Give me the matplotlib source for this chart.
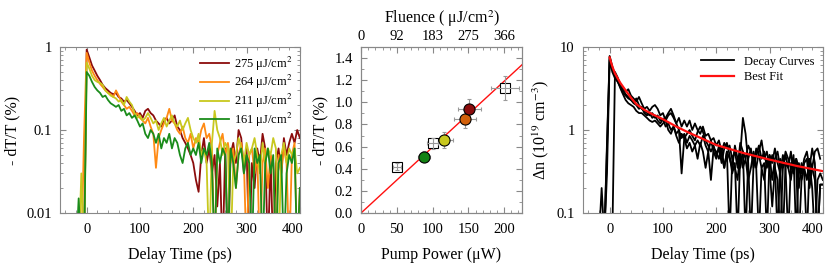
import numpy as np
import matplotlib
matplotlib.use("Agg")
import matplotlib.pyplot as plt
import matplotlib.transforms as mtransforms
from matplotlib.ticker import MultipleLocator, LogLocator, NullFormatter

plt.rcParams['font.family'] = ['Liberation Serif', 'DejaVu Serif']
plt.rcParams['mathtext.fontset'] = 'stix'

# ---- panel 1 : -dT/T decays for four fluences ----
t = np.arange(-20, 401, 5)

fluence_labels = ["275 μJ/cm$^2$", "264 μJ/cm$^2$", "211 μJ/cm$^2$", "161 μJ/cm$^2$"]
fluence_colors = ["#8b0c0c", "#ff8a14", "#c8c81e", "#1a8c1a"]

dt_275 = [0.003, 0.003, 0.003, 0.003, 0.93, 0.75, 0.6, 0.52, 0.45, 0.4, 0.35, 0.32, 0.3, 0.28, 0.27,
          0.28, 0.25, 0.24, 0.22, 0.23, 0.21, 0.19, 0.17, 0.15, 0.16, 0.14, 0.17, 0.18, 0.16, 0.15,
          0.13, 0.12, 0.11, 0.13, 0.14, 0.12, 0.13, 0.15, 0.11, 0.1, 0.08, 0.07, 0.06, 0.05, 0.04,
          0.025, 0.018, 0.05, 0.08, 0.04, 0.06, 0.03, 0.05, 0.012, 0.04, 0.003, 0.06, 0.003, 0.05,
          0.07, 0.04, 0.1, 0.08, 0.03, 0.06, 0.003, 0.04, 0.02, 0.06, 0.04, 0.09, 0.06, 0.003, 0.05,
          0.003, 0.04, 0.06, 0.03, 0.08, 0.05, 0.07, 0.09, 0.07, 0.1, 0.08]
dt_264 = [0.003, 0.003, 0.003, 0.08, 0.85, 0.65, 0.52, 0.45, 0.4, 0.36, 0.33, 0.3, 0.28, 0.27, 0.25,
          0.3, 0.26, 0.22, 0.2, 0.18, 0.19, 0.17, 0.15, 0.16, 0.14, 0.13, 0.12, 0.14, 0.11, 0.09,
          0.035, 0.08, 0.1, 0.12, 0.14, 0.18, 0.13, 0.12, 0.1, 0.09, 0.11, 0.08, 0.07, 0.09, 0.06,
          0.08, 0.07, 0.1, 0.12, 0.08, 0.09, 0.06, 0.003, 0.05, 0.07, 0.09, 0.05, 0.07, 0.04, 0.06,
          0.02, 0.05, 0.07, 0.04, 0.003, 0.05, 0.06, 0.03, 0.05, 0.003, 0.04, 0.06, 0.02, 0.05, 0.04,
          0.003, 0.05, 0.03, 0.06, 0.04, 0.003, 0.05, 0.07, 0.003, 0.02]
dt_211 = [0.003, 0.003, 0.03, 0.003, 0.65, 0.55, 0.45, 0.4, 0.38, 0.37, 0.35, 0.3, 0.28, 0.26, 0.25,
          0.24, 0.22, 0.23, 0.2, 0.25, 0.22, 0.2, 0.16, 0.14, 0.15, 0.13, 0.14, 0.16, 0.14, 0.12,
          0.13, 0.1, 0.12, 0.14, 0.11, 0.13, 0.15, 0.12, 0.11, 0.13, 0.1, 0.12, 0.14, 0.1, 0.08,
          0.07, 0.09, 0.05, 0.06, 0.04, 0.003, 0.07, 0.17, 0.1, 0.08, 0.05, 0.07, 0.06, 0.003, 0.04,
          0.05, 0.08, 0.06, 0.04, 0.07, 0.05, 0.06, 0.08, 0.05, 0.03, 0.07, 0.04, 0.06, 0.05, 0.08,
          0.06, 0.003, 0.05, 0.07, 0.04, 0.06, 0.05, 0.06, 0.03, 0.035]
dt_161 = [0.003, 0.015, 0.003, 0.003, 0.5, 0.45, 0.38, 0.33, 0.3, 0.28, 0.25, 0.26, 0.23, 0.21, 0.2,
          0.19, 0.2, 0.17, 0.18, 0.15, 0.16, 0.14, 0.15, 0.13, 0.11, 0.12, 0.09, 0.08, 0.1, 0.09,
          0.07, 0.09, 0.06, 0.08, 0.07, 0.09, 0.06, 0.08, 0.07, 0.05, 0.04, 0.06, 0.07, 0.05, 0.06,
          0.05, 0.07, 0.04, 0.06, 0.05, 0.07, 0.04, 0.003, 0.06, 0.04, 0.06, 0.05, 0.003, 0.06, 0.04,
          0.02, 0.05, 0.06, 0.03, 0.05, 0.04, 0.003, 0.06, 0.04, 0.05, 0.003, 0.04, 0.06, 0.03, 0.05,
          0.003, 0.04, 0.05, 0.003, 0.03, 0.05, 0.04, 0.06, 0.003, 0.02]

# ---- panel 2 : peak signal vs pump power ----
sq_power = [50, 100, 201]
sq_signal = [0.42, 0.63, 1.13]
sq_xerr = [6, 8, 20]
sq_yerr = [0.03, 0.05, 0.11]

dot_power = [88, 116, 145, 151]
dot_signal = [0.51, 0.66, 0.85, 0.94]
dot_xerr = [8.5, 12, 15, 16]
dot_yerr = [0.05, 0.075, 0.085, 0.09]
dot_colors = ["#148214", "#c8c81e", "#d2600a", "#8b0c0c"]

fit_power = [0, 225]
fit_signal = [0.0, 1.34]

fluence_ticks = [0, 50, 100, 150, 200]
fluence_ticklabels = ["0", "92", "183", "275", "366"]

# ---- panel 3 : carrier density decays and best fit ----
dn_a = [0.05, 0.2, 0.05, 0.6, 7.5, 5.5, 4.5, 4.0, 3.6, 3.2, 2.9, 3.1, 2.6, 2.4, 2.2,
        2.5, 2.1, 1.8, 1.9, 1.7, 1.9, 2.0, 1.8, 1.5, 1.6, 1.3, 1.5, 1.6, 1.4, 1.2,
        1.4, 1.1, 1.3, 1.1,
        1.3, 1.0, 1.2, 1.0, 0.9, 1.1, 0.85, 0.9, 0.75, 0.8,
        0.65, 0.75, 0.55, 0.7, 0.6, 0.65, 0.45, 0.55, 0.35, 0.7,
        0.55, 0.05, 0.45, 0.6, 0.35, 0.5, 0.65, 0.45, 0.55, 0.35,
        0.5, 0.25, 0.45, 0.55, 0.35, 0.05, 0.4, 0.35, 0.55, 0.3,
        0.45, 0.35, 0.25, 0.4, 0.45, 0.2, 0.35, 0.55, 0.6, 0.45, np.nan]
dn_b = [0.05, 0.05, 0.05, 0.3, 7.0, 5.0, 4.2, 3.8, 3.3, 2.8, 2.6, 2.4, 2.3, 2.2, 2.4,
        2.0, 1.8, 1.7, 1.6, 1.5, 1.6, 1.4, 1.5, 1.3, 1.35, 1.4, 1.6, 1.8, 1.5, 1.2,
        1.0, 0.3, 0.8, 0.9,
        1.0, 0.85, 0.75, 0.95, 1.1, 0.95, 0.75, 0.65, 0.55, 0.65,
        0.5, 0.6, 0.4, 0.6, 0.7, 0.5, 0.3, 0.4, 0.05, 0.5,
        1.4, 0.9, 0.4, 0.05, 0.4, 0.6, 0.5, 0.35, 0.4, 0.05,
        0.5, 0.4, 0.6, 0.4, 0.3, 0.5, 0.35, 0.05, 0.4, 0.3,
        0.45, 0.2, 0.4, 0.3, 0.05, 0.4, 0.2, 0.05, 0.25, 0.3, 0.25]
dn_c = [0.05, 0.05, 0.05, 0.7, 7.8, 5.8, 4.6, 3.9, 3.2, 2.7, 2.3, 2.1, 2.0, 1.9, 1.7,
        1.6, 1.6, 1.5, 1.4, 1.3, 1.25, 1.3, 1.2, 1.1, 1.2, 1.3, 1.0, 0.9, 1.1, 0.85,
        0.7, 0.9, 0.8, 0.6,
        0.7, 0.55, 0.65, 0.45, 0.7, 0.55, 0.35, 0.55, 0.25, 0.6,
        0.55, 0.45, 0.6, 0.35, 0.55, 0.05, 0.45, 0.35, 0.25, 0.55,
        0.35, 0.45, 0.25, 0.35, 0.55, 0.35, 0.05, 0.35, 0.25, 0.45,
        0.35, 0.12, 0.35, 0.25, 0.05, 0.35, 0.5, 0.35, 0.25, 0.45,
        0.35, 0.05, 0.25, 0.35, 0.25, 0.45, 0.35, 0.25, 0.05, 0.22, 0.22]
dn_d = [0.05, 0.05, 0.05, 0.05, 0.05, 0.05, 5.0, 4.3, 3.5, 3.0, 2.7, 2.5, 2.3, 2.1, 2.0,
        1.8, 1.9, 1.6, 1.5, 1.6, 1.4, 1.5, 1.3, 1.2, 1.35, 1.1, 1.2, 1.0, 1.1, 0.9,
        1.0, 0.8, 0.9, 0.7,
        0.85, 0.75, 0.65, 0.75, 0.65, 0.85, 0.65, 0.55, 0.75, 0.55,
        0.45, 0.65, 0.5, 0.35, 0.55, 0.45, 0.35, 0.65, 0.45, 0.35,
        0.55, 0.45, 0.65, 0.55, 0.45, 0.35, 0.55, 0.75, 0.45, 0.55,
        0.35, 0.5, 0.4, 0.05, 0.45, 0.35, 0.55, 0.45, 0.35, 0.5,
        0.05, 0.4, 0.3, 0.45, 0.55, 0.35, 0.6, 0.4, 0.05, 0.22, 0.22]

fit_t = [0, 3, 6, 10, 15, 20, 30, 40, 50, 65, 80, 100, 125, 150, 175, 200, 250, 300, 350, 410]
fit_dn = [7.5, 6.4, 5.6, 4.8, 4.2, 3.7, 3.0, 2.45, 2.05, 1.75, 1.55, 1.35, 1.1, 0.92, 0.78,
          0.66, 0.53, 0.44, 0.37, 0.31]


def style_axis(ax):
    for s in ax.spines.values():
        s.set_color("#888888")
    ax.tick_params(which="both", direction="in", top=True, right=True, colors="#888888",
                   labelcolor="black", labelsize=10.5)
    ax.tick_params(which="major", length=4)
    ax.tick_params(which="minor", length=2)
    ax.tick_params(axis="x", which="both", pad=7)
    ax.tick_params(axis="y", which="both", pad=6)


def nudge_last_xlabel(ax, dx_px):
    # the last tick label sits a little left of its tick in the original
    off = mtransforms.ScaledTranslation(dx_px / 100, 0, ax.figure.dpi_scale_trans)
    lab = ax.get_xticklabels()[-1]
    lab.set_transform(lab.get_transform() + off)


fig = plt.figure(figsize=(8.3, 2.68), dpi=100)
ax1 = fig.add_axes([0.0723, 0.2052, 0.289, 0.6194])
ax2 = fig.add_axes([0.435, 0.2052, 0.194, 0.6194])
ax3 = fig.add_axes([0.7024, 0.2052, 0.289, 0.6194])

# panel 1
for ys, lab, c in zip([dt_275, dt_264, dt_211, dt_161], fluence_labels, fluence_colors):
    ax1.plot(t, ys, color=c, lw=1.3, label=lab)
ax1.set_yscale("log")
ax1.set_ylim(0.01, 1)
ax1.set_xlim(-50, 400)
ax1.set_xticks([0, 100, 200, 300, 400])
ax1.xaxis.set_minor_locator(MultipleLocator(20))
ax1.set_yticks([0.01, 0.1, 1])
ax1.set_yticklabels(["0.01", "0.1", "1"])
ax1.yaxis.set_minor_locator(LogLocator(subs=np.arange(2, 10)))
ax1.yaxis.set_minor_formatter(NullFormatter())
ax1.set_xlabel("Delay Time (ps)", fontsize=11.5, labelpad=8)
ax1.set_ylabel("- dT/T (%)", fontsize=11.5)
ax1.legend(loc="upper right", frameon=False, fontsize=9, handlelength=2.3,
           handletextpad=0.4, borderaxespad=0.2, labelspacing=0.05)
style_axis(ax1)
nudge_last_xlabel(ax1, -7)

# panel 2
ax2.plot(fit_power, fit_signal, color="#ff1010", lw=1.0, zorder=1)
for x, y, xe, ye, c in zip(dot_power, dot_signal, dot_xerr, dot_yerr, dot_colors):
    ax2.errorbar([x], [y], xerr=[xe], yerr=[ye], fmt="none", ecolor="#999999",
                 elinewidth=0.8, capsize=1.5, capthick=0.8, zorder=2)
    ax2.plot([x], [y], "o", ms=8, mfc=c, mec="black", mew=0.8, zorder=4)
ax2.plot(sq_power, sq_signal, "s", ms=6.5, mfc="white", mec="black", mew=0.8, zorder=3)
ax2.errorbar(sq_power, sq_signal, xerr=sq_xerr, yerr=sq_yerr, fmt="none",
             ecolor="#999999", elinewidth=0.8, capsize=1.5, capthick=0.8, zorder=3.5)
ax2.set_xlim(0, 225)
ax2.set_ylim(0, 1.5)
ax2.set_xticks([0, 50, 100, 150, 200])
ax2.xaxis.set_minor_locator(MultipleLocator(10))
ax2.set_yticks(np.arange(0, 1.41, 0.2))
ax2.set_yticklabels(["%.1f" % v for v in np.arange(0, 1.41, 0.2)])
ax2.yaxis.set_minor_locator(MultipleLocator(0.1))
ax2.set_xlabel("Pump Power (μW)", fontsize=11.5, labelpad=8)
ax2.set_ylabel("- dT/T (%)", fontsize=11.5)
style_axis(ax2)
ax2.tick_params(top=False, which="both")
top = ax2.twiny()
top.set_xlim(ax2.get_xlim())
top.set_xticks(fluence_ticks)
top.set_xticklabels(fluence_ticklabels)
top.xaxis.set_minor_locator(MultipleLocator(10))
style_axis(top)
top.tick_params(which="both", bottom=False, left=False, right=False)
top.tick_params(axis="x", pad=3)
top.set_xlabel("Fluence ( μJ/cm$^2$)", fontsize=11.5, labelpad=5)

# panel 3
for i, ys in enumerate([dn_a, dn_b, dn_c, dn_d]):
    ax3.plot(t, ys, color="black", lw=1.3, label="Decay Curves" if i == 0 else None)
ax3.plot(fit_t, fit_dn, color="#ff1010", lw=1.6, label="Best Fit")
ax3.set_yscale("log")
ax3.set_ylim(0.1, 10)
ax3.set_xlim(-50, 400)
ax3.set_xticks([0, 100, 200, 300, 400])
ax3.xaxis.set_minor_locator(MultipleLocator(20))
ax3.set_yticks([0.1, 1, 10])
ax3.set_yticklabels(["0.1", "1", "10"])
ax3.yaxis.set_minor_locator(LogLocator(subs=np.arange(2, 10)))
ax3.yaxis.set_minor_formatter(NullFormatter())
ax3.set_xlabel("Delay Time (ps)", fontsize=11.5, labelpad=8)
ax3.set_ylabel("Δn (10$^{19}$ cm$^{-3}$)", fontsize=11.5)
ax3.legend(loc="upper right", frameon=False, fontsize=9, handlelength=2.6,
           borderaxespad=0.3, labelspacing=0.25)
style_axis(ax3)
nudge_last_xlabel(ax3, -10)

fig.savefig("out.png", dpi=100)
